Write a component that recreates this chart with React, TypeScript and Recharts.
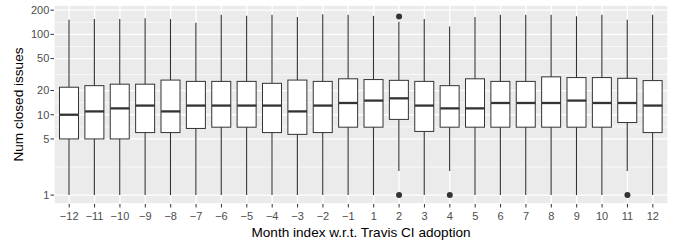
import * as React from "react"
import {
  ComposedChart, Bar, Scatter, XAxis, YAxis, CartesianGrid
} from "recharts"

// months relative to Travis CI adoption
const months = [
  "−12", "−11", "−10", "−9", "−8", "−7", "−6", "−5", "−4", "−3", "−2", "−1",
  "1", "2", "3", "4", "5", "6", "7", "8", "9", "10", "11", "12",
]
const whiskerLow = [1, 1, 1, 1, 1, 1, 1, 1, 1, 1, 1, 1, 1, 2, 1, 2, 1, 1, 1, 1, 1, 1, 2, 1]
const whiskerHigh = [152, 155, 155, 159, 155, 140, 175, 170, 175, 164, 178, 175, 170, 144, 155, 125, 164, 175, 175, 175, 168, 175, 152, 175]
const q1 = [5, 5, 5, 6, 6, 6.75, 7, 7, 6, 5.7, 6, 7, 7, 8.75, 6.2, 7, 7, 7, 7, 7, 7, 7, 8, 6]
const medians = [10, 11, 12, 13, 11, 13, 13, 13, 13, 11, 13, 14, 15, 16, 13, 12, 12, 14, 14, 14, 15, 14, 14, 13]
const q3 = [22, 23, 24, 24, 27, 26, 26, 26, 24.6, 27, 26, 28, 27.4, 26.8, 26, 23, 28, 26, 26, 29.6, 29, 29, 28.4, 26.6]

const outlierMonths = ["2", "2", "4", "11"]
const outlierValues = [167, 1, 1, 1]

const yTicks = [1, 5, 10, 20, 50, 100, 200]
// ggplot puts minor breaks halfway between majors (in log space)
const yMinor = yTicks.slice(1).map((t, i) => Math.sqrt(t * yTicks[i]))

const data = months.map((m, i) => {
  const row: any = {
    month: m,
    whisker: [whiskerLow[i], whiskerHigh[i]],
    box: [q1[i], q3[i]],
    median: medians[i],
  }
  outlierMonths.forEach((om, j) => {
    if (om !== m) return
    if (outlierValues[j] < q1[i]) row.outLow = outlierValues[j]
    else row.outHigh = outlierValues[j]
  })
  return row
})

const FONT = "'Liberation Sans', Arial, Helvetica, sans-serif"
const INK = "#333333"
const BOX_W = 19

function WhiskerShape(props: any) {
  const { x, y, width, height } = props
  if (x == null || isNaN(y)) return null
  const cx = x + width / 2
  return <line x1={cx} x2={cx} y1={y} y2={y + height} stroke={INK} strokeWidth={1.1} />
}

function BoxShape(props: any) {
  const { x, y, width, height } = props
  if (x == null || isNaN(y)) return null
  return <rect x={x} y={y} width={width} height={height} fill="#ffffff" stroke={INK} strokeWidth={1} />
}

function MedianShape(props: any) {
  const { cx, cy } = props
  if (cx == null || isNaN(cy)) return null
  return <line x1={cx - BOX_W / 2} x2={cx + BOX_W / 2} y1={cy} y2={cy} stroke={INK} strokeWidth={2.3} />
}

function makeDot(key: string) {
  return (props: any) => {
    const { cx, cy, payload } = props
    if (!payload || payload[key] == null || isNaN(cy)) return <g />
    return <circle cx={cx} cy={cy} r={3} fill={INK} />
  }
}

export default function App() {
  return (
    <div style={{ position: "absolute", left: 0, top: 0, background: "#fff" }}>
      <ComposedChart
        width={678}
        height={247}
        data={data}
        margin={{ top: 5, right: 10, bottom: 0, left: 0 }}
        style={{ fontFamily: FONT }}
      >
        <CartesianGrid yAxisId="minor" vertical={false} stroke="#ffffff" strokeWidth={0.7} fill="#EBEBEB" />
        <CartesianGrid stroke="#ffffff" strokeWidth={1.3} />
        <XAxis
          dataKey="month"
          height={43}
          padding={{ left: 2.5, right: 2.5 }}
          interval={0}
          axisLine={false}
          tickSize={3.5}
          tickMargin={4.5}
          tickLine={{ stroke: INK }}
          tick={{ fill: "#4D4D4D", fontSize: 11 }}
          label={{
            content: (p: any) => {
              const vb = p.viewBox
              return (
                <text x={vb.x + vb.width / 2} y={vb.y + 33} textAnchor="middle" fill="#000" fontSize={13.6}>
                  Month index w.r.t. Travis CI adoption
                </text>
              )
            },
          }}
        />
        <XAxis xAxisId="b" dataKey="month" hide padding={{ left: 2.5, right: 2.5 }} />
        <YAxis
          scale="log"
          domain={[0.775, 232]}
          allowDataOverflow
          ticks={yTicks}
          interval={0}
          width={54}
          axisLine={false}
          tickSize={3.5}
          tickMargin={1.2}
          tickLine={{ stroke: INK }}
          tick={{ fill: "#4D4D4D", fontSize: 11 }}
          label={{
            content: (p: any) => {
              const vb = p.viewBox
              const lx = vb.x + 22.7
              const ly = vb.y + vb.height / 2
              return (
                <text x={lx} y={ly} transform={`rotate(-90 ${lx} ${ly})`} textAnchor="middle" fill="#000" fontSize={13.6}>
                  Num closed issues
                </text>
              )
            },
          }}
        />
        <YAxis yAxisId="minor" scale="log" domain={[0.775, 232]} allowDataOverflow ticks={yMinor} hide />
        <Bar dataKey="whisker" barSize={BOX_W} shape={WhiskerShape} isAnimationActive={false} />
        <Bar dataKey="box" xAxisId="b" barSize={BOX_W} shape={BoxShape} isAnimationActive={false} />
        <Scatter dataKey="median" shape={MedianShape} isAnimationActive={false} />
        <Scatter dataKey="outLow" shape={makeDot("outLow")} isAnimationActive={false} />
        <Scatter dataKey="outHigh" shape={makeDot("outHigh")} isAnimationActive={false} />
      </ComposedChart>
    </div>
  )
}
